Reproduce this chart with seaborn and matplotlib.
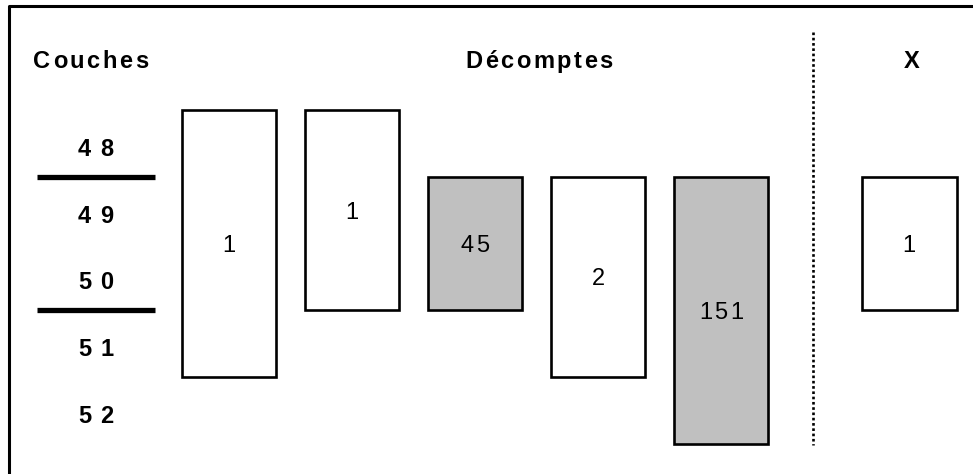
import matplotlib
matplotlib.use("Agg")
import matplotlib.pyplot as plt
import seaborn as sns
import pandas as pd
from matplotlib.font_manager import FontProperties
from matplotlib.lines import Line2D

# Données
couches = ["48", "49", "50", "51", "52"]
couches_num = [48, 49, 50, 51, 52]
limites = [48.5, 50.5]  # traits épais entre couches

decomptes = [1, 1, 45, 2, 151]
debut = [48, 48, 49, 49, 49]
fin = [51, 50, 50, 51, 52]
grise = [False, False, True, False, True]

x_valeur = [1]
x_debut = [49]
x_fin = [50]
x_grise = [False]

titres = ["Couches", "Décomptes", "X"]

# Mise en page (unités de colonnes / couches)
pos = [0, 1, 2, 3, 4, 5.53]
x_couches = -1.085
x_titres = [-1.126, 2.52, 5.55]
y_titres = 46.743
x_sep = 4.748

df = pd.DataFrame({
    "pos": pos,
    "valeur": decomptes + x_valeur,
    "debut": debut + x_debut,
    "fin": fin + x_fin,
    "grise": grise + x_grise,
})
df["hauteur"] = df["fin"] - df["debut"] + 1

sns.set_theme(style="white")
plt.rcParams["font.family"] = ["Liberation Sans", "DejaVu Sans"]

fig = plt.figure(figsize=(9.73, 4.74), dpi=100)
ax = fig.add_axes([0, 0, 1, 1])

sns.barplot(
    data=df, x="pos", y="hauteur", native_scale=True, orient="x",
    width=0.77, errorbar=None, ax=ax, color="white", saturation=1,
    bottom=df["debut"] - 0.5,
    facecolor=["#c0c0c0" if g else "white" for g in df["grise"]],
    edgecolor="black", linewidth=1.9,
)

ax.set_xlim(-1.862, 6.049)
ax.set_ylim(52.957, 45.85)
ax.axis("off")

# traits épais entre couches
for l in limites:
    ax.plot([-1.561, -0.602], [l, l], color="black", lw=3.8, solid_capstyle="butt")

# séparateur pointillé
ax.plot([x_sep, x_sep], [46.33, 52.52], color="black", lw=1.9,
        linestyle=(0, (1, 1)), dash_capstyle="butt")

renderer = fig.canvas.get_renderer()


def texte_espace(x, y, s, ecart, taille, gras=False):
    fp = FontProperties(family="Liberation Sans", size=taille,
                        weight="bold" if gras else "normal")
    larg = [renderer.get_text_width_height_descent(c, fp, ismath=False)[0] for c in s]
    total = sum(larg) + ecart * (len(s) - 1)
    dx = -total / 2
    dy = -0.358 * taille * 100 / 72
    for c, w in zip(s, larg):
        ax.annotate(c, (x, y), xytext=(dx, dy), textcoords="offset pixels",
                    ha="left", va="baseline", fontproperties=fp, color="black")
        dx += w + ecart


# titres
for t, xt in zip(titres, x_titres):
    texte_espace(xt, y_titres, t, 2.5, 17, gras=True)

# numéros de couches
for c, yc in zip(couches, couches_num):
    texte_espace(x_couches, yc + 0.06, c, 9, 17, gras=True)

# valeurs dans les cases
for _, r in df.iterrows():
    texte_espace(r["pos"], (r["debut"] + r["fin"]) / 2, str(r["valeur"]), 2.5, 17)

# cadre
fig.add_artist(Line2D([9 / 973, 9 / 973, 1], [0, 1 - 5.5 / 474, 1 - 5.5 / 474],
                      transform=fig.transFigure, color="black", lw=2.2))

fig.savefig("out.png", dpi=100)
